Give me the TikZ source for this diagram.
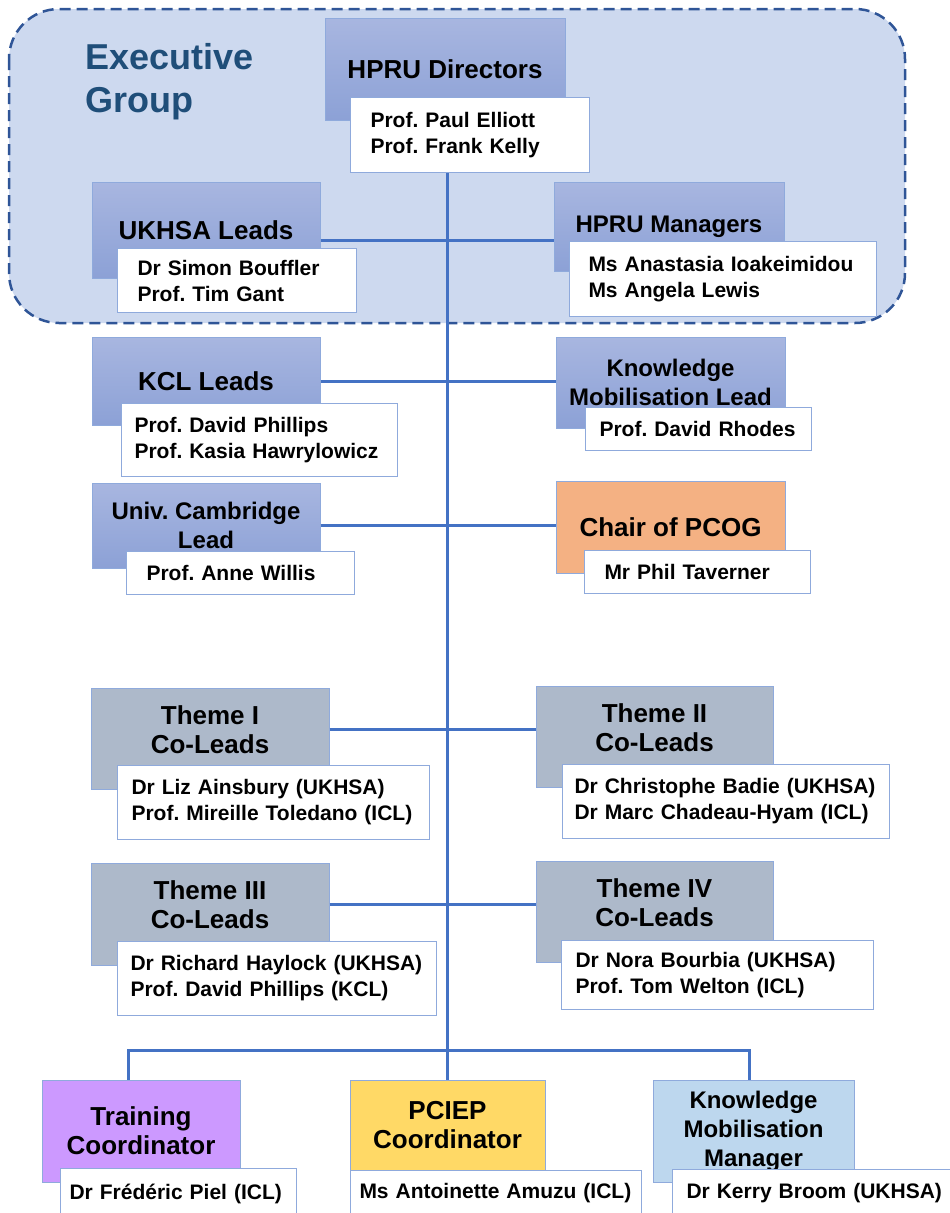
\documentclass[tikz,border=0pt]{standalone}
\usepackage{fontspec}
\setmainfont{Liberation Sans}
\usetikzlibrary{positioning}

\definecolor{exfill}{RGB}{205,217,239}
\definecolor{exline}{RGB}{47,85,151}
\definecolor{exblue}{RGB}{31,78,121}
\definecolor{hdtop}{RGB}{168,182,224}
\definecolor{hdbot}{RGB}{140,161,214}
\definecolor{hdline}{RGB}{143,170,220}
\definecolor{thfill}{RGB}{173,185,202}
\definecolor{pcogfill}{RGB}{244,177,131}
\definecolor{trainfill}{RGB}{204,153,255}
\definecolor{pciepfill}{RGB}{255,217,102}
\definecolor{kmmfill}{RGB}{189,215,238}
\definecolor{nmline}{RGB}{143,170,220}
\definecolor{linkblue}{RGB}{68,114,196}

\frenchspacing
\newcommand{\grpfont}{\fontsize{36}{43}\selectfont\bfseries}
\newcommand{\hdfont}{\fontsize{26}{29}\selectfont\bfseries}
\newcommand{\smhdfont}{\fontsize{24}{29}\selectfont\bfseries}
\newcommand{\nmfont}{\fontsize{21}{26}\selectfont\bfseries\hyphenpenalty=10000}

\begin{document}
\begin{tikzpicture}[x=1pt,y=-1pt]


\tikzset{box/.style={draw=hdline, line width=1pt, align=center, inner sep=0pt, font=\hdfont},}
\tikzset{lead/.style={box, top color=hdtop, bottom color=hdbot},}
\tikzset{theme/.style={box, fill=thfill, text depth=18pt},}
\tikzset{names/.style={draw=nmline, line width=1pt, fill=white, anchor=north west, align=left, inner xsep=20pt, inner ysep=0pt, font=\nmfont},}
\tikzset{grouptitle/.style={anchor=north west, inner sep=0pt, align=left, text=exblue, font=\grpfont},}
\tikzset{link/.style={draw=linkblue, line width=3pt},}
\tikzset{execgroup/.style={draw=exline, fill=exfill, line width=2.5pt, dash pattern=on 11pt off 6pt, rounded corners=50pt},}

\useasboundingbox (0,0) rectangle (950,1213);
\clip (0,0) rectangle (950,1213);

\draw[execgroup] (9,9) rectangle (905,323);

\draw
	(85,43) node[grouptitle] (exectitle) {Executive\\Group}

	(445,69) node[lead, minimum width=240, minimum height=102] (dir) {HPRU Directors}
	(350,97) node[names, text width=199pt, minimum height=75] (dirn) {Prof. Paul Elliott\\Prof. Frank Kelly}

	(206,230) node[lead, minimum width=228, minimum height=96] (ukhsa) {UKHSA Leads}
	(117,248) node[names, text width=199pt, minimum height=64] (ukhsan) {Dr Simon Bouffler\\Prof. Tim Gant}

	(669,226.5) node[lead, font=\smhdfont, minimum width=230, minimum height=89] (mgr) {HPRU Managers}
	(569,241) node[names, inner xsep=19pt, text width=269pt, minimum height=75] (mgrn) {Ms Anastasia Ioakeimidou\\Ms Angela Lewis}

	(206,381) node[lead, minimum width=228, minimum height=88] (kcl) {KCL Leads}
	(121,403) node[names, inner xsep=13pt, text width=250pt, minimum height=73] (kcln) {Prof. David Phillips\\Prof. Kasia Hawrylowicz}

	(670.5,382.5) node[lead, font=\smhdfont, minimum width=229, minimum height=91] (kml) {Knowledge\\Mobilisation Lead}
	(585,407) node[names, inner xsep=14pt, text width=198pt, minimum height=43] (kmln) {Prof. David Rhodes}

	(206,525.5) node[lead, font=\smhdfont, minimum width=228, minimum height=85] (cam) {Univ. Cambridge\\Lead}
	(126,551) node[names, text width=188pt, minimum height=43] (camn) {Prof. Anne Willis}

	(670.5,527) node[box, fill=pcogfill, minimum width=229, minimum height=92] (pcog) {Chair of PCOG}
	(584,550) node[names, text width=186pt, minimum height=43] (pcogn) {Mr Phil Taverner}

	(210,738.5) node[theme, minimum width=238, minimum height=101] (th1) {Theme I\\Co-Leads}
	(117,765) node[names, inner xsep=14pt, text width=284pt, minimum height=74] (th1n) {Dr Liz Ainsbury (UKHSA)\\Prof. Mireille Toledano (ICL)}

	(654.5,736.5) node[theme, minimum width=237, minimum height=101] (th2) {Theme II\\Co-Leads}
	(562,764) node[names, inner xsep=12pt, text width=303pt, minimum height=74] (th2n) {Dr Christophe Badie (UKHSA)\\Dr Marc Chadeau-Hyam (ICL)}

	(210,914) node[theme, minimum width=238, minimum height=102] (th3) {Theme III\\Co-Leads}
	(117,941) node[names, inner xsep=13pt, text width=293pt, minimum height=74] (th3n) {Dr Richard Haylock (UKHSA)\\Prof. David Phillips (KCL)}

	(654.5,911.5) node[theme, minimum width=237, minimum height=101] (th4) {Theme IV\\Co-Leads}
	(561,940) node[names, inner xsep=14pt, text width=284pt, minimum height=69] (th4n) {Dr Nora Bourbia (UKHSA)\\Prof. Tom Welton (ICL)}

	(141,1131) node[box, fill=trainfill, minimum width=198, minimum height=102] (train) {Training\\Coordinator}
	(60,1168) node[names, inner xsep=9pt, text width=218pt, minimum height=50] (trainn) {Dr Frédéric Piel (ICL)}

	(447.5,1125) node[box, fill=pciepfill, minimum width=195, minimum height=90] (pciep) {PCIEP\\Coordinator}
	(350,1170) node[names, inner xsep=9pt, text width=273pt, minimum height=46] (pciepn) {Ms Antoinette Amuzu (ICL)}

	(753.5,1131) node[box, fill=kmmfill, font=\smhdfont, minimum width=201, minimum height=102] (kmm) {Knowledge\\Mobilisation\\Manager}
	(672,1169) node[names, inner xsep=14pt, text width=257pt, minimum height=48] (kmmn) {Dr Kerry Broom (UKHSA)}
;

\coordinate (row1) at (446,240);
\coordinate (row5) at (446,729);
\coordinate (row6) at (446,904);
\coordinate (jb) at (446,1050);

\draw[link] (pciep.north |- dirn.south) -- (pciep.north);
\draw[link] (ukhsa.east |- row1) -- (mgr.west |- row1);
\draw[link] (kcl.east) -- (kcl.east -| kml.west);
\draw[link] (cam.east) -- (cam.east -| pcog.west);
\draw[link] (th1.east |- row5) -- (th2.west |- row5);
\draw[link] (th3.east |- row6) -- (th4.west |- row6);
\draw[link] ([xshift=-13pt]train.north) |- (jb) -| ([xshift=-4pt]kmm.north);


\end{tikzpicture}
\end{document}
